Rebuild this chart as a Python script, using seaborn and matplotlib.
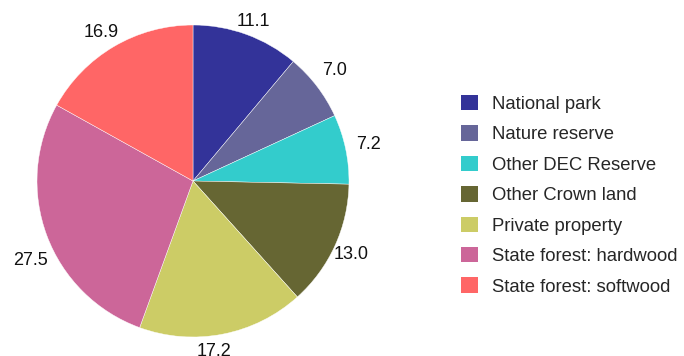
import matplotlib
matplotlib.use("Agg")
import numpy as np
import matplotlib.pyplot as plt
import seaborn as sns
from matplotlib.patches import Patch

categories = ["National park", "Nature reserve", "Other DEC Reserve",
              "Other Crown land", "Private property",
              "State forest: hardwood", "State forest: softwood"]
values = [11.1, 7.0, 7.2, 13.0, 17.2, 27.5, 16.9]
value_labels = ["11.1", "7.0", "7.2", "13.0", "17.2", "27.5", "16.9"]
colors = ["#333399", "#666699", "#33cccc", "#666633", "#cccc66", "#cc6699", "#ff6666"]

# label placement: radial distance (in radii) and angular nudge (degrees)
label_dist = [1.09, 1.15, 1.15, 1.12, 1.10, 1.16, 1.12]
label_nudge = [-0.7, 0.6, -0.2, -0.4, -4.0, 5.5, 1.2]

sns.set_theme(style="white")
plt.rcParams["font.family"] = ["Liberation Sans", "DejaVu Sans"]

W, H = 684, 356
fig = plt.figure(figsize=(W / 100, H / 100), dpi=100)
cx, cy, r = 193, 181, 156
ax = fig.add_axes([(cx - r) / W, (H - cy - r) / H, 2 * r / W, 2 * r / H])

wedges, texts = ax.pie(values, labels=value_labels, colors=colors,
                       startangle=90, counterclock=False,
                       wedgeprops=dict(edgecolor="white", linewidth=0.3),
                       textprops=dict(fontsize=13, color="#111111"))
for w, t, d, n in zip(wedges, texts, label_dist, label_nudge):
    mid = np.deg2rad((w.theta1 + w.theta2) / 2 + n)
    t.set_position((d * np.cos(mid), d * np.sin(mid)))
    t.set_horizontalalignment("center")
    t.set_verticalalignment("center")
ax.set_xlim(-1, 1)
ax.set_ylim(-1, 1)
ax.set_aspect("equal")
ax.axis("off")

handles = [Patch(facecolor=c, edgecolor="none") for c in colors]
fig.legend(handles, categories, loc="upper left",
           bbox_to_anchor=(461 / W, 1 - 95 / H),
           frameon=False, fontsize=13.3,
           handlelength=0.9, handleheight=0.9,
           handletextpad=0.8, labelspacing=0.67,
           borderaxespad=0, borderpad=0)

fig.savefig("out.png", dpi=100)
